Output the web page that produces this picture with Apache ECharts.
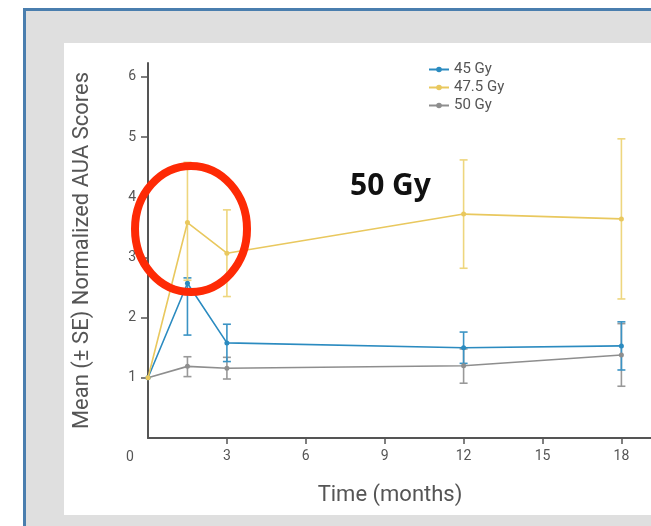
<!DOCTYPE html>
<html>
<head>
<meta charset="utf-8">
<script src="https://cdn.jsdelivr.net/npm/echarts@6/dist/echarts.min.js"></script>
<style>html,body{margin:0;padding:0;background:#fff}#c{width:651px;height:526px}</style>
</head>
<body>
<div id="c"></div>
<script>
// ---- data ----
var months = [0, 1.5, 3, 12, 18];
var seriesNames = ['45 Gy', '47.5 Gy', '50 Gy'];
var gy45 = [1.0, 2.57, 1.58, 1.50, 1.53];
var gy45Low = [null, 1.71, 1.27, 1.24, 1.13];
var gy45High = [null, 2.66, 1.89, 1.76, 1.93];
var gy475 = [1.0, 3.58, 3.07, 3.72, 3.64];
var gy475Low = [null, 2.62, 2.35, 2.82, 2.31];
var gy475High = [null, 4.58, 3.79, 4.62, 4.97];
var gy50 = [1.0, 1.19, 1.16, 1.20, 1.38];
var gy50Low = [null, 1.02, 0.98, 0.91, 0.86];
var gy50High = [null, 1.35, 1.34, 1.48, 1.90];
var xTicks = [3, 6, 9, 12, 15, 18];
var yTicks = [1, 2, 3, 4, 5, 6];

var colors = ['#2b8bc0', '#e9c85e', '#8e8e8e'];
var barColors = ['#3a93c4', '#eed67e', '#999999'];

function pts(vals) { return months.map(function (m, i) { return [m, vals[i]]; }); }
function errData(lo, hi) {
  var out = [];
  months.forEach(function (m, i) { if (lo[i] != null) out.push([m, lo[i], hi[i]]); });
  return out;
}
function errSeries(lo, hi, color, z) {
  return {
    type: 'custom', silent: true, z: z,
    data: errData(lo, hi),
    renderItem: function (params, api) {
      var x = api.value(0);
      var a = api.coord([x, api.value(1)]);
      var b = api.coord([x, api.value(2)]);
      var w = 4;
      var st = { stroke: color, lineWidth: 1.6 };
      return {
        type: 'group',
        children: [
          { type: 'line', shape: { x1: a[0], y1: a[1], x2: b[0], y2: b[1] }, style: st },
          { type: 'line', shape: { x1: a[0] - w, y1: a[1], x2: a[0] + w, y2: a[1] }, style: st },
          { type: 'line', shape: { x1: b[0] - w, y1: b[1], x2: b[0] + w, y2: b[1] }, style: st }
        ]
      };
    }
  };
}
function lineSeries(name, vals, color, z) {
  return {
    name: name, type: 'line', data: pts(vals), z: z,
    symbol: 'circle', symbolSize: 5, showSymbol: true,
    lineStyle: { color: color, width: 1.6 },
    itemStyle: { color: color },
    emphasis: { disabled: true }, animation: false
  };
}

var chart = echarts.init(document.getElementById('c'), null, { renderer: 'canvas' });
chart.setOption({
  animation: false,
  backgroundColor: '#ffffff',
  textStyle: { fontFamily: 'Roboto' },
  grid: { left: 148, top: 63, width: 526, height: 375, outerBoundsMode: 'none', containLabel: false },
  legend: {
    orient: 'vertical', left: 428, top: 62, padding: 0,
    itemWidth: 20, itemHeight: 7, itemGap: 3,
    data: seriesNames,
    textStyle: { color: '#555', fontSize: 15, fontFamily: 'Roboto' }
  },
  xAxis: {
    type: 'value', min: 0, max: 20,
    name: 'Time (months)', nameLocation: 'middle', nameGap: 46,
    nameTextStyle: { color: '#555', fontSize: 22, fontFamily: 'Roboto', padding: [0, 42, 0, 0] },
    axisLine: { show: true, lineStyle: { color: '#555', width: 2 } },
    axisTick: { show: true, length: 6, customValues: xTicks, lineStyle: { color: '#555', width: 1.5 } },
    axisLabel: { customValues: xTicks, color: '#555', fontSize: 14, margin: 11 },
    splitLine: { show: false }
  },
  yAxis: {
    type: 'value', min: 0, max: 6.23,
    name: 'Mean (\u00b1 SE) Normalized AUA Scores', nameLocation: 'middle', nameGap: 55,
    nameTextStyle: { color: '#555', fontSize: 22, fontFamily: 'Roboto' },
    axisLine: { show: true, lineStyle: { color: '#555', width: 2 } },
    axisTick: { show: true, length: 7, customValues: yTicks, lineStyle: { color: '#555', width: 1.5 } },
    axisLabel: { customValues: yTicks, color: '#555', fontSize: 14, margin: 12 },
    splitLine: { show: false }
  },
  graphic: [
    { type: 'rect', z: -20, silent: true, shape: { x: 24.5, y: 9.5, width: 700, height: 600 },
      style: { fill: '#dfdfdf', stroke: '#4a7eae', lineWidth: 3 } },
    { type: 'rect', z: -19, silent: true, shape: { x: 64, y: 43, width: 620, height: 472 },
      style: { fill: '#ffffff' } },
    { type: 'text', z: 50, silent: true, style: { x: 130, y: 457, text: '0', fill: '#555', fontSize: 14, fontFamily: 'Roboto', align: 'center', verticalAlign: 'middle' } },
    { type: 'text', z: 100, silent: true, style: { x: 350, y: 186, text: '50 Gy', fill: '#111', fontSize: 30, fontWeight: 'bold', fontFamily: 'Noto Sans', verticalAlign: 'middle' } },
    { type: 'ellipse', z: 100, silent: true, shape: { cx: 191, cy: 229, rx: 56, ry: 63 },
      style: { fill: 'none', stroke: '#fe2a05', lineWidth: 8 } }
  ],
  series: [
    errSeries(gy50Low, gy50High, barColors[2], 3),
    errSeries(gy45Low, gy45High, barColors[0], 4),
    errSeries(gy475Low, gy475High, barColors[1], 5),
    lineSeries(seriesNames[2], gy50, colors[2], 6),
    lineSeries(seriesNames[0], gy45, colors[0], 7),
    lineSeries(seriesNames[1], gy475, colors[1], 8)
  ]
});
</script>
</body>
</html>
